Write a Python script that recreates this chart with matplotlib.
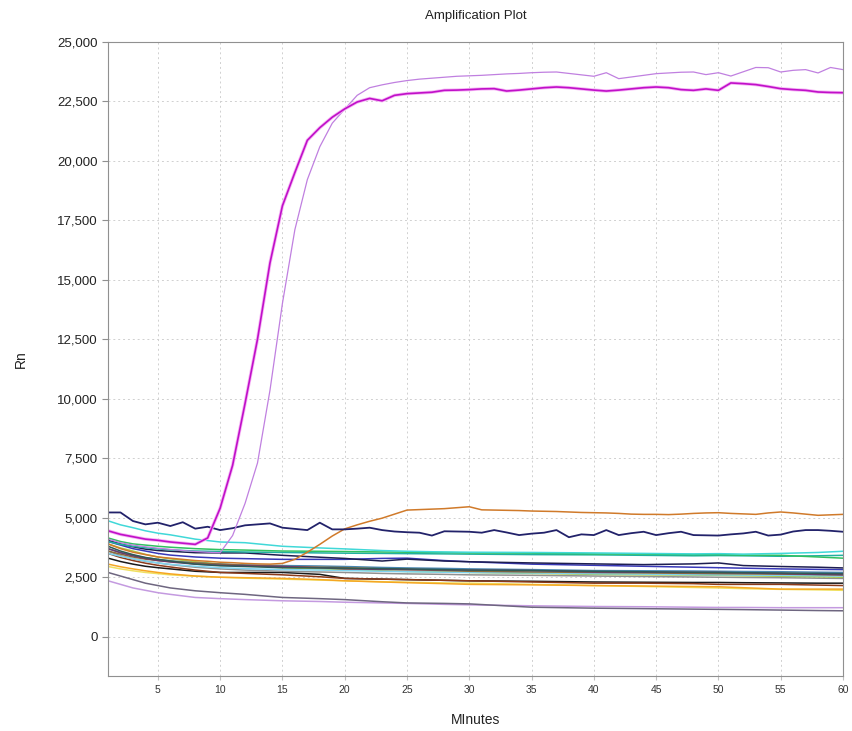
import matplotlib
matplotlib.use("Agg")
import matplotlib.pyplot as plt
import numpy as np

plt.rcParams['font.family'] = ['Liberation Sans', 'DejaVu Sans']

# ---- data (Rn per minute) ----
minutes = list(range(1, 61))

magenta = [4450, 4300, 4200, 4100, 4050, 3980, 3930, 3880, 4150, 5400,
           7200, 9800, 12500, 15700, 18100, 19500, 20850, 21380, 21820, 22170,
           22460, 22610, 22510, 22740, 22810, 22840, 22870, 22950, 22960, 22980,
           23010, 23020, 22920, 22960, 23010, 23060, 23090, 23060, 23010, 22960,
           22920, 22960, 23010, 23060, 23090, 23060, 22980, 22950, 23010, 22950,
           23260, 23230, 23190, 23110, 23020, 22980, 22950, 22880, 22860, 22850]

violet = [4100, 3950, 3850, 3780, 3720, 3670, 3620, 3580, 3550, 3530,
          4250, 5600, 7300, 10350, 14000, 17100, 19200, 20580, 21570, 22160,
          22740, 23060, 23180, 23280, 23360, 23420, 23460, 23500, 23540, 23560,
          23580, 23610, 23640, 23660, 23690, 23710, 23720, 23660, 23600, 23540,
          23690, 23440, 23510, 23580, 23650, 23680, 23710, 23720, 23610, 23690,
          23550, 23730, 23910, 23900, 23720, 23790, 23820, 23680, 23910, 23820]

navy_top = [5220, 5220, 4860, 4720, 4790, 4650, 4810, 4540, 4620, 4480,
            4560, 4680, 4720, 4760, 4580, 4530, 4480, 4790, 4510, 4510,
            4540, 4580, 4480, 4420, 4390, 4370, 4250, 4430, 4420, 4410,
            4370, 4480, 4380, 4270, 4330, 4370, 4480, 4180, 4300, 4270,
            4480, 4270, 4350, 4410, 4270, 4350, 4410, 4270, 4260, 4250,
            4300, 4340, 4410, 4250, 4290, 4420, 4480, 4480, 4450, 4410]

orange = [3900, 3700, 3550, 3450, 3350, 3300, 3250, 3200, 3170, 3130,
          3110, 3080, 3060, 3050, 3080, 3250, 3550, 3880, 4230, 4530,
          4700, 4850, 4980, 5150, 5320, 5340, 5360, 5380, 5420, 5460,
          5330, 5320, 5310, 5300, 5280, 5270, 5260, 5240, 5220, 5210,
          5200, 5180, 5150, 5140, 5140, 5130, 5150, 5180, 5200, 5210,
          5180, 5160, 5140, 5200, 5240, 5200, 5150, 5100, 5120, 5140]

# flatter baseline wells, sampled more coarsely
t_base = [1, 2, 3, 4, 5, 6, 8, 10, 12, 15, 18, 20, 23, 25, 28, 30, 35, 40, 44, 48, 50, 52, 55, 58, 60]

cyan = [4870, 4700, 4580, 4450, 4350, 4280, 4100, 3980, 3950, 3800, 3730, 3690, 3620, 3590, 3560,
        3550, 3540, 3520, 3500, 3480, 3490, 3470, 3500, 3540, 3590]
green = [4150, 4000, 3900, 3850, 3800, 3760, 3700, 3660, 3640, 3600, 3590, 3580, 3560, 3550, 3540,
         3520, 3510, 3480, 3470, 3450, 3450, 3430, 3420, 3350, 3300]
teal = [4000, 3880, 3800, 3740, 3690, 3650, 3600, 3580, 3560, 3540, 3520, 3510, 3500, 3490, 3480,
        3470, 3450, 3440, 3420, 3400, 3410, 3400, 3380, 3400, 3420]
navy2 = [4050, 3900, 3780, 3680, 3620, 3590, 3530, 3520, 3520, 3420, 3340, 3290, 3180, 3260, 3180,
         3150, 3100, 3060, 3030, 3060, 3100, 2990, 2950, 2920, 2890]
blue = [4000, 3850, 3700, 3600, 3500, 3430, 3350, 3300, 3280, 3250, 3250, 3250, 3290, 3300, 3200,
        3150, 3050, 3000, 2960, 2920, 2900, 2880, 2850, 2830, 2820]
dslate = [3800, 3600, 3450, 3330, 3250, 3180, 3050, 2980, 2950, 2900, 2890, 2880, 2860, 2850, 2820,
          2800, 2780, 2750, 2730, 2710, 2700, 2690, 2680, 2660, 2650]
plum = [3700, 3530, 3400, 3290, 3200, 3140, 3050, 3000, 2980, 2950, 2900, 2850, 2830, 2820, 2810,
        2800, 2780, 2720, 2710, 2700, 2700, 2680, 2650, 2620, 2600]
brown = [3600, 3470, 3350, 3260, 3200, 3160, 3100, 3050, 3000, 2950, 2920, 2900, 2850, 2820, 2780,
         2750, 2720, 2700, 2680, 2660, 2650, 2640, 2630, 2610, 2600]
sky = [3500, 3380, 3280, 3180, 3100, 3040, 2960, 2900, 2860, 2820, 2800, 2780, 2750, 2730, 2710,
       2700, 2680, 2650, 2630, 2610, 2600, 2590, 2580, 2560, 2550]
steel = [3700, 3540, 3420, 3320, 3250, 3190, 3100, 3050, 3020, 2990, 2970, 2950, 2910, 2890, 2870,
         2850, 2820, 2780, 2770, 2760, 2750, 2740, 2730, 2710, 2700]
olive = [3900, 3730, 3600, 3460, 3350, 3270, 3150, 3050, 2990, 2900, 2850, 2820, 2770, 2740, 2720,
         2700, 2660, 2620, 2600, 2590, 2580, 2560, 2540, 2520, 2500]
grey = [3600, 3400, 3270, 3170, 3100, 3030, 2920, 2850, 2800, 2750, 2720, 2700, 2660, 2640, 2620,
        2600, 2580, 2550, 2530, 2510, 2500, 2490, 2480, 2460, 2450]
rust = [3500, 3330, 3200, 3090, 3000, 2930, 2800, 2700, 2660, 2600, 2520, 2450, 2420, 2400, 2370,
        2350, 2300, 2250, 2250, 2230, 2200, 2200, 2200, 2170, 2150]
black = [3300, 3160, 3050, 2960, 2900, 2850, 2750, 2700, 2700, 2700, 2620, 2450, 2420, 2400, 2370,
         2350, 2330, 2300, 2290, 2280, 2280, 2270, 2260, 2250, 2250]
gold = [3050, 2940, 2850, 2770, 2700, 2640, 2550, 2500, 2480, 2450, 2400, 2350, 2300, 2270, 2230,
        2200, 2180, 2150, 2130, 2110, 2100, 2060, 2000, 2000, 2000]
yellow = [2950, 2850, 2770, 2700, 2650, 2600, 2540, 2500, 2460, 2420, 2380, 2350, 2310, 2290, 2260,
          2250, 2200, 2150, 2110, 2070, 2050, 2020, 1990, 1970, 1950]
mauve = [2700, 2550, 2400, 2250, 2150, 2050, 1930, 1850, 1780, 1650, 1600, 1560, 1470, 1420, 1400,
         1380, 1240, 1200, 1180, 1160, 1150, 1140, 1120, 1100, 1090]
lavender = [2350, 2200, 2050, 1950, 1850, 1780, 1650, 1600, 1560, 1510, 1480, 1450, 1420, 1400, 1360,
            1340, 1300, 1270, 1260, 1240, 1230, 1230, 1220, 1220, 1220]

baselines = [
    (lavender, '#c49ae0'), (mauve, '#6e6680'), (yellow, '#f0e060'), (gold, '#f5a623'),
    (black, '#1a1a1a'), (rust, '#8b3a1a'), (grey, '#909090'), (olive, '#a8c84a'),
    (steel, '#4a86b0'), (sky, '#7fd4f0'), (brown, '#8b6b3a'), (plum, '#6a3a6a'),
    (dslate, '#2f5a55'), (blue, '#3838b8'), (navy2, '#1e1e50'), (teal, '#20b0a0'),
    (green, '#30c060'), (cyan, '#40d8d8'),
]


def create_amp_plot():
    fig = plt.figure(figsize=(8.52, 7.31), dpi=100)
    ax = fig.add_axes([0.1268, 0.0752, 0.8626, 0.8680])

    for vals, col in baselines:
        ax.plot(t_base, vals, color=col, lw=1.1)

    ax.plot(minutes, orange, color='#d07a2a', lw=1.1)
    ax.plot(minutes, navy_top, color='#22226a', lw=1.3)
    ax.plot(minutes, violet, color='#c080e0', lw=0.9)
    # magenta well: light halo under a darker core
    ax.plot(minutes, magenta, color='#f6b4f6', lw=2.4)
    ax.plot(minutes, magenta, color='#c010c8', lw=1.2)

    ax.set_xlim(1, 60)
    ax.set_ylim(-1650, 25000)
    ax.set_xticks(range(5, 61, 5))
    ax.set_yticks(range(0, 25001, 2500))
    ax.yaxis.set_major_formatter('{x:,.0f}')

    # dashed light grid
    ax.grid(True, color='#d0d0d0', linestyle=(0, (2, 3)), lw=0.7)
    ax.set_axisbelow(True)

    for sp in ax.spines.values():
        sp.set_color('#909090')
    ax.tick_params(axis='y', labelsize=9.5, length=4, color='#909090', labelcolor='#222222')
    ax.tick_params(axis='x', labelsize=7.5, length=3, color='#c0c0c0', labelcolor='#333333')

    ax.set_title('Amplification Plot', fontsize=9.5, pad=16, color='#222222')
    ax.set_xlabel('MInutes', fontsize=10, color='#222222', labelpad=13)
    ax.set_ylabel('Rn', fontsize=10, color='#222222', labelpad=21)

    fig.savefig('out.png', dpi=100)


create_amp_plot()
